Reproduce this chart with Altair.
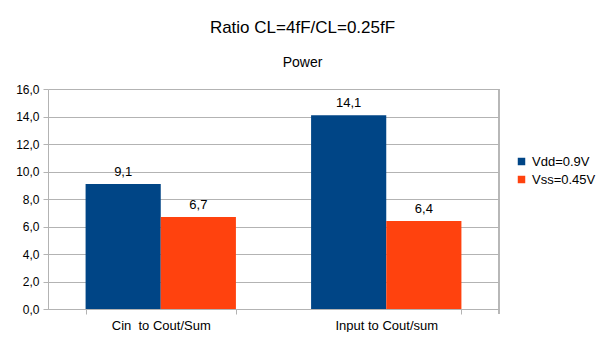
import altair as alt
import pandas as pd

categories = ["Cin\u00a0 to Cout/Sum", "Input to Cout/sum"]
series = ["Vdd=0.9V", "Vss=0.45V"]
vdd_values = [9.1, 14.1]
vss_values = [6.7, 6.4]
y_ticks = [0, 2, 4, 6, 8, 10, 12, 14, 16]
colors = ["#004586", "#ff420e"]

rows = []
for c, a, b in zip(categories, vdd_values, vss_values):
    rows.append({"cat": c, "series": series[0], "value": a})
    rows.append({"cat": c, "series": series[1], "value": b})
df = pd.DataFrame(rows)

FONT = "Liberation Sans"
GRID = "#b3b3b3"
W, H = 451, 220

base = alt.Chart(df).transform_calculate(
    label="replace(format(datum.value, '.1f'), '.', ',')"
).encode(
    x=alt.X(
        "cat:N",
        sort=categories,
        scale=alt.Scale(paddingInner=1 / 3, paddingOuter=1 / 6),
        axis=alt.Axis(
            title=None,
            labelAngle=0,
            labelFontSize=13,
            labelFont=FONT,
            labelColor="#000000",
            labelPadding=5,
            tickBand="extent",
            tickSize=5,
            tickColor=GRID,
            domainColor=GRID,
            grid=False,
        ),
    ),
    xOffset=alt.XOffset("series:N", sort=series, scale=alt.Scale(paddingInner=0, paddingOuter=0)),
    y=alt.Y(
        "value:Q",
        scale=alt.Scale(domain=[0, 16], nice=False),
        axis=alt.Axis(
            title=None,
            values=y_ticks,
            labelExpr="replace(format(datum.value, '.1f'), '.', ',')",
            labelFontSize=12,
            labelFont=FONT,
            labelColor="#000000",
            labelPadding=4,
            tickSize=5,
            tickColor=GRID,
            domainColor=GRID,
            grid=True,
            gridColor=GRID,
        ),
    ),
)

bars = base.mark_bar().encode(
    color=alt.Color(
        "series:N",
        sort=series,
        scale=alt.Scale(domain=series, range=colors),
        legend=alt.Legend(
            title=None,
            orient="none",
            legendX=467,
            legendY=66,
            symbolType="square",
            symbolSize=56,
            symbolStrokeWidth=0,
            labelFontSize=13,
            labelFont=FONT,
            labelColor="#000000",
            labelOffset=4,
            rowPadding=4,
            padding=0,
        ),
    )
)

labels = base.mark_text(
    baseline="alphabetic", dy=-8, fontSize=13, font=FONT, color="#000000"
).encode(text="label:N")

edge = alt.Chart(df).mark_rule(color=GRID).encode(
    x=alt.value(W), y=alt.value(0), y2=alt.value(H + 5)
)

chart = (
    alt.layer(bars, labels, edge)
    .properties(
        width=W,
        height=H,
        title=alt.TitleParams(
            text="Ratio CL=4fF/CL=0.25fF",
            subtitle="Power",
            anchor="middle",
            dx=29,
            font=FONT,
            fontSize=17,
            fontWeight="normal",
            color="#000000",
            subtitleFont=FONT,
            subtitleFontSize=14,
            subtitleColor="#000000",
            subtitlePadding=19,
            offset=12,
        ),
        autosize=alt.AutoSizeParams(type="none"),
        padding={"left": 40, "top": 81, "right": 98, "bottom": 23},
    )
    .configure_view(strokeWidth=0)
)

chart.save("out.html", embed_options={"renderer": "svg", "actions": False})
